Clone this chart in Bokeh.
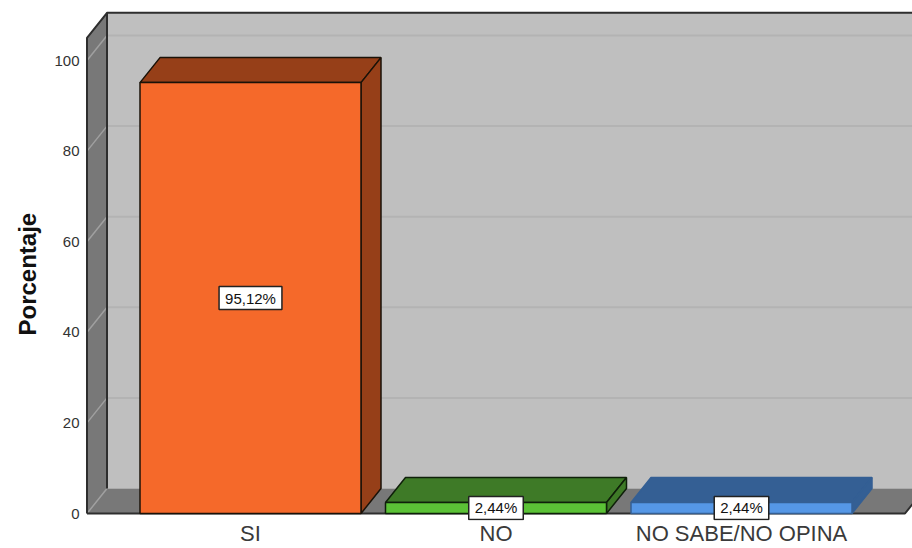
from bokeh.plotting import figure
from bokeh.models import Range1d, FixedTicker, LinearAxis, Title
from bokeh.embed import file_html
from bokeh.resources import INLINE
from bokeh.core.properties import value

categories = ["SI", "NO", "NO SABE/NO OPINA"]
percentages = [95.12, 2.44, 2.44]
value_labels = ["95,12%", "2,44%", "2,44%"]
y_ticks = [0, 20, 40, 60, 80, 100]
front_colors = ["#f5692a", "#5bc236", "#5597e6"]
depth_colors = ["#963f18", "#3e7a27", "#345f94"]
edge_colors = ["#1a1208", "#0f200a", "#345f94"]

FONT = "Liberation Sans"
PX_X, PX_Y = 245.5, 4.53
DX, DY = 20 / PX_X, 25 / PX_Y
BAR_W = 221 / PX_X
X_LO = 1 + (85.5 - 250.5) / PX_X
X_HI = 1 + (912.5 - 250.5) / PX_X
Y_LO = -7 / PX_Y
Y_HI = 503 / PX_Y
WALL_X0 = 1 + (87 - 250.5) / PX_X
WALL_X1 = 1 + (905 - 250.5) / PX_X
AXIS_TOP = 105

p = figure(width=912, height=548, output_backend="svg", toolbar_location=None,
           x_range=Range1d(X_LO, X_HI), y_range=Range1d(Y_LO, Y_HI),
           min_border_left=85, min_border_right=0, min_border_top=10, min_border_bottom=28,
           x_axis_location=None, y_axis_location=None, background_fill_color="white",
           outline_line_color=None)
p.grid.visible = False

WALL = "#bfbfbf"
SIDE = "#787878"
DARK = "#2e2e2e"

# back wall
p.patch([WALL_X0 + DX, X_HI + 1, X_HI + 1, WALL_X0 + DX],
        [DY, DY, AXIS_TOP + DY, AXIS_TOP + DY], fill_color=WALL, line_color=None)
# wall grid
grid_vals = y_ticks[1:]
p.segment([WALL_X0 + DX] * len(grid_vals), [v + DY for v in grid_vals],
          [X_HI + 1] * len(grid_vals), [v + DY for v in grid_vals],
          line_color="#b3b3b3", line_width=2)
# left wall
p.patch([WALL_X0, WALL_X0 + DX, WALL_X0 + DX, WALL_X0],
        [0, DY, AXIS_TOP + DY, AXIS_TOP], fill_color=SIDE, line_color=None)
# floor
p.patch([WALL_X0, WALL_X0 + DX, WALL_X1 + DX, WALL_X1],
        [0, DY, DY, 0], fill_color=SIDE, line_color=None)
# grid on left wall
p.segment([WALL_X0] * len(y_ticks), y_ticks,
          [WALL_X0 + DX] * len(y_ticks), [v + DY for v in y_ticks],
          line_color="#a0a0a0", line_width=1.5)
# frame edges
p.line([WALL_X0, WALL_X0, WALL_X0 + DX, X_HI + 1],
       [0, AXIS_TOP, AXIS_TOP + DY, AXIS_TOP + DY], line_color=DARK, line_width=2)
p.line([WALL_X0 + DX, WALL_X0 + DX], [DY, AXIS_TOP + DY], line_color=DARK, line_width=2)
p.line([WALL_X0, WALL_X1, WALL_X1 + DX], [0, 0, DY], line_color=DARK, line_width=2)

# bars
for i, (v, fc, dc, ec) in enumerate(zip(percentages, front_colors, depth_colors, edge_colors)):
    c = i + 1
    l, r = c - BAR_W / 2, c + BAR_W / 2
    p.patch([l, l + DX, r + DX, r], [v, v + DY, v + DY, v],
            fill_color=dc, line_color=ec, line_width=1.5)
    p.patch([r, r + DX, r + DX, r], [0, DY, v + DY, v],
            fill_color=dc, line_color=ec, line_width=1.5)
    p.patch([l, r, r, l], [0, 0, v, v],
            fill_color=fc, line_color=ec, line_width=1.5)

# value labels
p.text(x=[1, 2, 3], y=[v / 2 for v in percentages], text=value_labels,
       text_font=value(FONT), text_font_size="15px", text_color="#111111",
       text_align="center", text_baseline="middle",
       background_fill_color="white", border_line_color="#222222", border_line_width=1.5,
       padding=(6, 3))

# axes
yax = LinearAxis(ticker=FixedTicker(ticks=y_ticks), axis_line_color=None,
                 major_tick_line_color=None, minor_tick_line_color=None,
                 major_tick_out=0, major_tick_in=0,
                 major_label_text_font=FONT, major_label_text_font_size="15px",
                 major_label_text_color="#333333", major_label_standoff=6)
p.add_layout(yax, "left")
xax = LinearAxis(ticker=FixedTicker(ticks=[1, 2, 3]), axis_line_color=None,
                 major_tick_line_color=None, minor_tick_line_color=None,
                 major_tick_out=0, major_tick_in=0,
                 major_label_overrides={i + 1: c for i, c in enumerate(categories)},
                 major_label_text_font=FONT, major_label_text_font_size="22px",
                 major_label_text_color="#3a3a3a", major_label_standoff=0)
p.add_layout(xax, "below")

p.add_layout(Title(text="Porcentaje", align="left", offset=185, standoff=17, vertical_align="top",
                   text_font=FONT, text_font_style="bold", text_font_size="24px",
                   text_color="#111111"), "left")

open("out.html", "w").write(file_html(p, INLINE))
